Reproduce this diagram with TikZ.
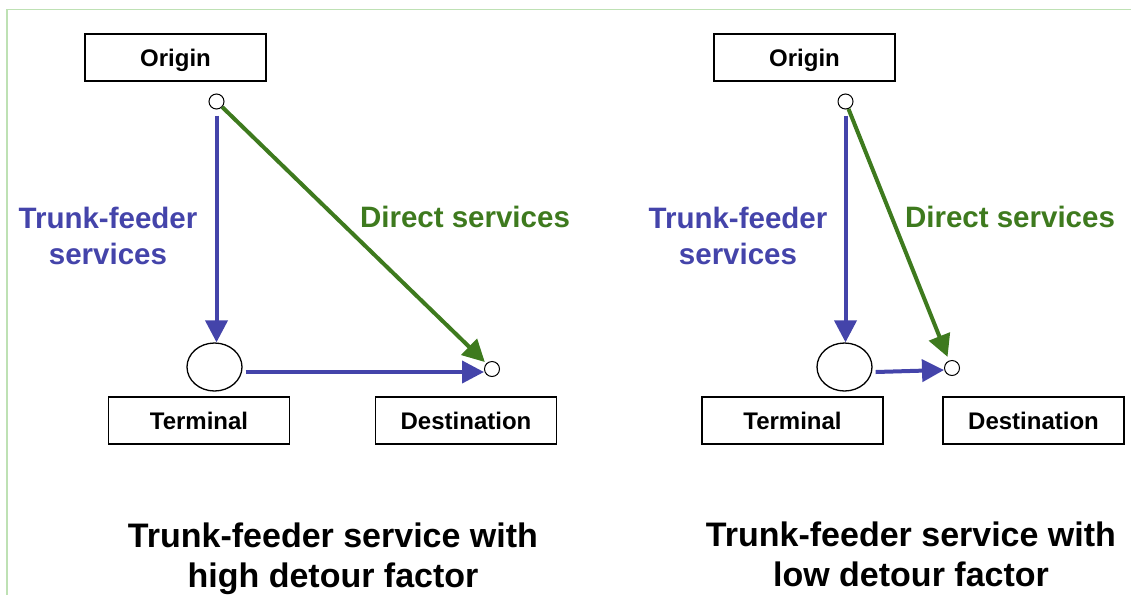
\documentclass[tikz,border=0pt]{standalone}
\usepackage{fontspec}
\setmainfont{Liberation Sans}
\usetikzlibrary{arrows.meta,shapes.geometric}
\definecolor{tfblue}{RGB}{68,68,170}
\definecolor{dgreen}{RGB}{62,122,30}
\definecolor{framegreen}{RGB}{190,225,180}
\begin{document}
\begin{tikzpicture}[x=1pt,y=-1pt,
  box/.style={draw=black, line width=1.3pt, minimum width=181pt, minimum height=47pt, inner sep=0pt,
    text depth=0pt, font=\bfseries\fontsize{24}{28}\selectfont},
  stop/.style={draw=black, circle, line width=1pt, minimum size=15pt, inner sep=0pt, fill=white},
  termnode/.style={draw=black, ellipse, line width=1.3pt, minimum width=55pt, minimum height=48pt, inner sep=0pt},
  arr/.style={line width=4pt, -{Triangle[length=22pt,width=22pt]}},
  tfarr/.style={arr, tfblue},
  darr/.style={arr, dgreen},
  lbl/.style={font=\bfseries\fontsize{29.5}{36}\selectfont, align=center, inner sep=0pt},
  ttl/.style={font=\bfseries\fontsize{34}{40}\selectfont, align=center, inner sep=0pt}]
\useasboundingbox (0,0) rectangle (1131,595);
\draw[framegreen, line width=1.2pt] (7,595) -- (7,9.5) -- (1131,9.5);

% left diagram
\node[box] (ob1) at (175.5,57.5) {Origin};
\node[stop] (o1) at (216.5,101.5) {};
\node[termnode] (t1) at (214.5,367) {};
\node[stop] (d1) at (492,369) {};
\node[box] (tb1) at (199,420.5) {Terminal};
\node[box] (db1) at (466,420.5) {Destination};
\draw[tfarr, shorten <=6pt] (o1) -- (o1 |- t1.north);
\draw[tfarr] ([shift={(3,5)}]t1.east) -- ([yshift=-3pt]d1.west);
\draw[darr, shorten >=2pt] (o1) -- (d1);
\node[lbl, text=tfblue] (l1) at (108,236) {Trunk-feeder\\services};
\node[lbl, text=dgreen] (g1) at (465,217) {Direct services};
\node[ttl] (h1) at (333,559) {Trunk-feeder service with\\high detour factor};

% right diagram
\node[box] (ob2) at (804.5,57.5) {Origin};
\node[stop] (o2) at (845.5,101.5) {};
\node[termnode] (t2) at (844.5,367) {};
\node[stop] (d2) at (952,368) {};
\node[box] (tb2) at (792.5,420.5) {Terminal};
\node[box] (db2) at (1033.5,420.5) {Destination};
\draw[tfarr, shorten <=6pt] (o2) -- (o2 |- t2.north);
\draw[tfarr] ([shift={(3,5)}]t2.east) -- ([yshift=-2pt]d2.west);
\draw[darr, shorten >=4pt] (o2) -- (d2);
\node[lbl, text=tfblue] (l2) at (738,236) {Trunk-feeder\\services};
\node[lbl, text=dgreen] (g2) at (1010,217) {Direct services};
\node[ttl] (h2) at (911,554) {Trunk-feeder service with\\low detour factor};
\end{tikzpicture}
\end{document}
